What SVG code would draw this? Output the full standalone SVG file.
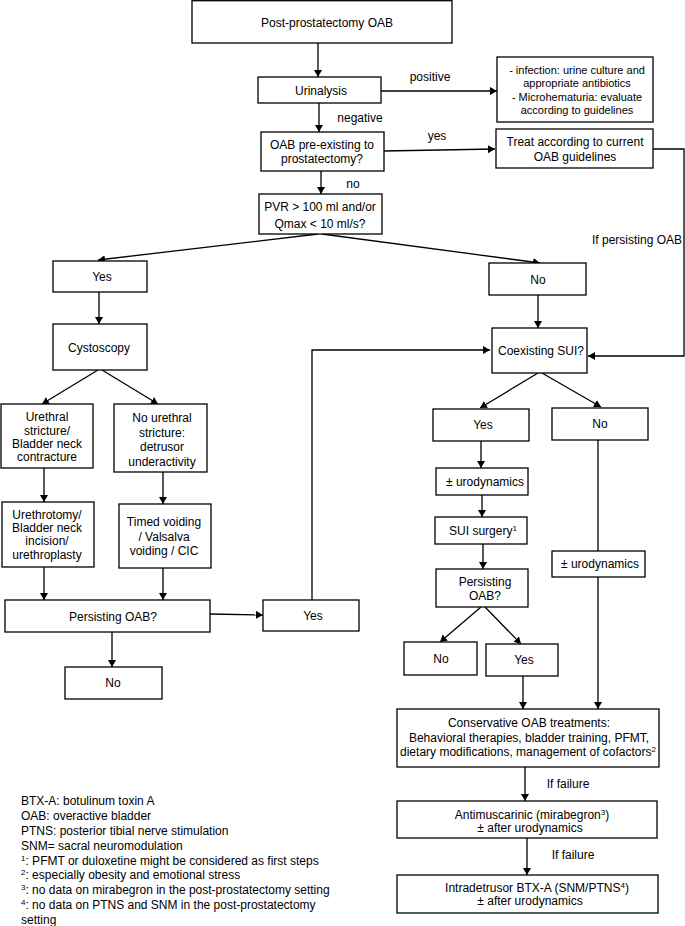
<svg xmlns="http://www.w3.org/2000/svg" width="685" height="926" viewBox="0 0 685 926">
<style>
.b{fill:#fff;stroke:#000;stroke-width:1.3}
.t{font-family:"Liberation Sans",Arial,sans-serif;font-size:12px;fill:#000;text-anchor:middle}
.s{font-size:11px}
.l{font-family:"Liberation Sans",Arial,sans-serif;font-size:12px;fill:#000}
.c{fill:none;stroke:#000;stroke-width:1.3}
.sup{font-size:8px}
</style>
<defs>
<marker id="a" markerUnits="userSpaceOnUse" markerWidth="10" markerHeight="10" refX="7" refY="4" orient="auto">
<path d="M0,0 L7,4 L0,8 Z" fill="#000"/>
</marker>
</defs>
<g id="connectors">
<line class="c" x1="318" y1="43" x2="318" y2="77" marker-end="url(#a)"/>
<line class="c" x1="381" y1="91" x2="497" y2="91" marker-end="url(#a)"/>
<line class="c" x1="319" y1="103" x2="319" y2="132" marker-end="url(#a)"/>
<line class="c" x1="384" y1="151" x2="495" y2="149" marker-end="url(#a)"/>
<line class="c" x1="321" y1="171" x2="321" y2="194" marker-end="url(#a)"/>
<polyline class="c" points="653,149 684,149 684,356 588,356" marker-end="url(#a)"/>
<line class="c" x1="318" y1="234" x2="98" y2="260" marker-end="url(#a)"/>
<line class="c" x1="322" y1="234" x2="540" y2="263" marker-end="url(#a)"/>
<line class="c" x1="99" y1="292" x2="99" y2="324" marker-end="url(#a)"/>
<line class="c" x1="98" y1="370" x2="42" y2="404" marker-end="url(#a)"/>
<line class="c" x1="102" y1="370" x2="158" y2="404" marker-end="url(#a)"/>
<line class="c" x1="44" y1="468" x2="44" y2="502" marker-end="url(#a)"/>
<line class="c" x1="163" y1="472" x2="163" y2="504" marker-end="url(#a)"/>
<line class="c" x1="44" y1="567" x2="44" y2="600" marker-end="url(#a)"/>
<line class="c" x1="163" y1="568" x2="163" y2="600" marker-end="url(#a)"/>
<line class="c" x1="210" y1="614" x2="263" y2="615" marker-end="url(#a)"/>
<line class="c" x1="112" y1="632" x2="112" y2="667" marker-end="url(#a)"/>
<polyline class="c" points="312,600 312,350 490,350" marker-end="url(#a)"/>
<line class="c" x1="538" y1="295" x2="538" y2="328" marker-end="url(#a)"/>
<line class="c" x1="538" y1="373" x2="480" y2="408" marker-end="url(#a)"/>
<line class="c" x1="542" y1="373" x2="601" y2="407" marker-end="url(#a)"/>
<line class="c" x1="481" y1="441" x2="481" y2="468" marker-end="url(#a)"/>
<line class="c" x1="482" y1="495" x2="482" y2="517" marker-end="url(#a)"/>
<line class="c" x1="483" y1="544" x2="483" y2="569" marker-end="url(#a)"/>
<line class="c" x1="481" y1="607" x2="440" y2="642" marker-end="url(#a)"/>
<line class="c" x1="485" y1="607" x2="521" y2="644" marker-end="url(#a)"/>
<line class="c" x1="598" y1="440" x2="598" y2="551"/>
<line class="c" x1="598" y1="577" x2="598" y2="709" marker-end="url(#a)"/>
<line class="c" x1="523" y1="676" x2="523" y2="709" marker-end="url(#a)"/>
<line class="c" x1="525" y1="767" x2="525" y2="801" marker-end="url(#a)"/>
<line class="c" x1="527" y1="838" x2="527" y2="875" marker-end="url(#a)"/>
<text class="t" x="430" y="81">positive</text>
<text class="t" x="360" y="122">negative</text>
<text class="t" x="437" y="140">yes</text>
<text class="t" x="353" y="188">no</text>
<text class="l" x="682" y="244" text-anchor="end">If persisting OAB</text>
<text class="t" x="568" y="788">If failure</text>
<text class="t" x="573" y="859">If failure</text>
</g>
<g id="n1"><rect class="b" x="192" y="0.7" width="260" height="42.3"/><text class="t" x="327" y="27">Post-prostatectomy OAB</text></g>
<g id="n2"><rect class="b" x="258" y="77" width="123" height="26"/><text class="t" x="321" y="95">Urinalysis</text></g>
<g id="n3"><rect class="b" x="497" y="57" width="156" height="65"/><text class="t s" x="577" y="74">- infection: urine culture and</text><text class="t s" x="577" y="87">appropriate antibiotics</text><text class="t s" x="577" y="101">- Microhematuria: evaluate</text><text class="t s" x="577" y="114">according to guidelines</text></g>
<g id="n4"><rect class="b" x="261" y="132" width="123" height="39"/><text class="t" x="322" y="149">OAB pre-existing to</text><text class="t" x="322" y="163">prostatectomy?</text></g>
<g id="n5"><rect class="b" x="496" y="129" width="157" height="39"/><text class="t" x="575" y="146">Treat according to current</text><text class="t" x="575" y="161">OAB guidelines</text></g>
<g id="n6"><rect class="b" x="259" y="194" width="123" height="40"/><text class="t" x="320" y="211">PVR &gt; 100 ml and/or</text><text class="t" x="320" y="228">Qmax &lt; 10 ml/s?</text></g>
<g id="n7"><rect class="b" x="53" y="261" width="94" height="31"/><text class="t" x="102" y="281">Yes</text></g>
<g id="n8"><rect class="b" x="489" y="263" width="97" height="32"/><text class="t" x="538" y="284">No</text></g>
<g id="n9"><rect class="b" x="53" y="324" width="94" height="46"/><text class="t" x="99" y="352">Cystoscopy</text></g>
<g id="n10"><rect class="b" x="492" y="328" width="95" height="45"/><text class="t" x="541" y="355">Coexisting SUI?</text></g>
<g id="n11"><rect class="b" x="1" y="404" width="92" height="64"/><text class="t" x="47" y="421">Urethral</text><text class="t" x="47" y="435">stricture/</text><text class="t" x="47" y="448">Bladder neck</text><text class="t" x="47" y="461">contracture</text></g>
<g id="n12"><rect class="b" x="114" y="404" width="93" height="68"/><text class="t" x="162" y="422">No urethral</text><text class="t" x="162" y="437">stricture:</text><text class="t" x="162" y="451">detrusor</text><text class="t" x="162" y="466">underactivity</text></g>
<g id="n13"><rect class="b" x="433" y="409" width="96" height="32"/><text class="t" x="483" y="429">Yes</text></g>
<g id="n14"><rect class="b" x="552" y="408" width="96" height="32"/><text class="t" x="600" y="428">No</text></g>
<g id="n15"><rect class="b" x="436" y="468" width="92" height="27"/><text class="t" x="485" y="486">± urodynamics</text></g>
<g id="n16"><rect class="b" x="2" y="502" width="92" height="65"/><text class="t" x="47" y="519">Urethrotomy/</text><text class="t" x="47" y="532">Bladder neck</text><text class="t" x="47" y="545">incision/</text><text class="t" x="47" y="559">urethroplasty</text></g>
<g id="n17"><rect class="b" x="119" y="504" width="92" height="64"/><text class="t" x="164" y="526">Timed voiding</text><text class="t" x="164" y="541">/ Valsalva</text><text class="t" x="164" y="555">voiding / CIC</text></g>
<g id="n18"><rect class="b" x="435" y="517" width="92" height="27"/><text class="t" x="483" y="535">SUI surgery<tspan class="sup" dy="-4">1</tspan></text></g>
<g id="n19"><rect class="b" x="552" y="551" width="93" height="26"/><text class="t" x="600" y="568">± urodynamics</text></g>
<g id="n20"><rect class="b" x="436" y="569" width="92" height="38"/><text class="t" x="485" y="586">Persisting</text><text class="t" x="485" y="600">OAB?</text></g>
<g id="n21"><rect class="b" x="5" y="600" width="205" height="32"/><text class="t" x="113" y="621">Persisting OAB?</text></g>
<g id="n22"><rect class="b" x="263" y="600" width="96" height="31"/><text class="t" x="313" y="620">Yes</text></g>
<g id="n23"><rect class="b" x="404" y="642" width="73" height="33"/><text class="t" x="441" y="663">No</text></g>
<g id="n24"><rect class="b" x="486" y="644" width="72" height="32"/><text class="t" x="524" y="664">Yes</text></g>
<g id="n25"><rect class="b" x="65" y="667" width="97" height="32"/><text class="t" x="113" y="687">No</text></g>
<g id="n26"><rect class="b" x="397" y="709" width="262" height="58"/><text class="t" x="529" y="727">Conservative OAB treatments:</text><text class="t" x="529" y="742">Behavioral therapies, bladder training, PFMT,</text><text class="t" x="528" y="756">dietary modifications, management of cofactors<tspan class="sup" dy="-4">2</tspan></text></g>
<g id="n27"><rect class="b" x="397" y="801" width="260" height="37"/><text class="t" x="532" y="819">Antimuscarinic (mirabegron<tspan class="sup" dy="-4">3</tspan><tspan dy="4">)</tspan></text><text class="t" x="530" y="832">± after urodynamics</text></g>
<g id="n28"><rect class="b" x="397" y="875" width="261" height="38"/><text class="t" x="537" y="892">Intradetrusor BTX-A (SNM/PTNS<tspan class="sup" dy="-4">4</tspan><tspan dy="4">)</tspan></text><text class="t" x="530" y="905">± after urodynamics</text></g>
<g id="legend">
<text class="l" x="21" y="805">BTX-A: botulinum toxin A</text>
<text class="l" x="21" y="820">OAB: overactive bladder</text>
<text class="l" x="21" y="835">PTNS: posterior tibial nerve stimulation</text>
<text class="l" x="21" y="850">SNM= sacral neuromodulation</text>
<text class="l" x="21" y="865"><tspan class="sup" dy="-4">1</tspan><tspan dy="4">: PFMT or duloxetine might be considered as first steps</tspan></text>
<text class="l" x="21" y="879"><tspan class="sup" dy="-4">2</tspan><tspan dy="4">: especially obesity and emotional stress</tspan></text>
<text class="l" x="21" y="894"><tspan class="sup" dy="-4">3</tspan><tspan dy="4">: no data on mirabegron in the post-prostatectomy setting</tspan></text>
<text class="l" x="21" y="909"><tspan class="sup" dy="-4">4</tspan><tspan dy="4">: no data on PTNS and SNM in the post-prostatectomy</tspan></text>
<text class="l" x="21" y="924">setting</text>
</g>
</svg>
